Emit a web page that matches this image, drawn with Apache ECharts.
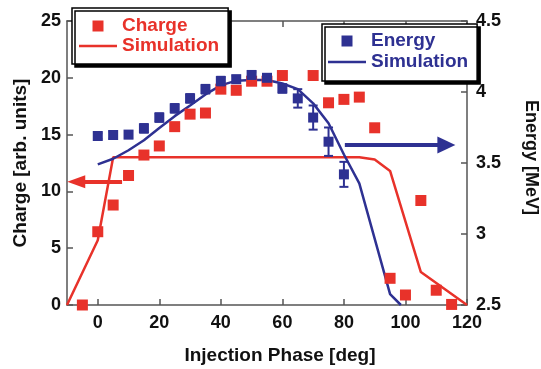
<!DOCTYPE html>
<html>
<head>
<meta charset="utf-8">
<script src="https://cdn.jsdelivr.net/npm/echarts@6/dist/echarts.min.js"></script>
<style>html,body{margin:0;padding:0;background:#fff;}#c{width:541px;height:369px;}</style>
</head>
<body>
<div id="c"></div>
<script>
// x tick labels
var xTicks = [0, 20, 40, 60, 80, 100, 120];
// Charge measurements [phase, charge]
var chargePhase = [-5, 0, 5, 10, 15, 20, 25, 30, 35, 40, 45, 50, 55, 60, 70, 75, 80, 85, 90, 95, 100, 105, 110, 115];
var chargeValue = [0, 6.45, 8.8, 11.4, 13.2, 14.0, 15.7, 16.8, 16.9, 19.0, 18.9, 19.7, 19.7, 20.2, 20.2, 17.8, 18.1, 18.3, 15.6, 2.35, 0.88, 9.2, 1.3, 0.05];
// Charge simulation
var chargeSimPhase = [-10, 0, 5, 85, 90, 95, 105, 120];
var chargeSimValue = [0, 5.7, 13.0, 13.0, 12.8, 11.8, 2.9, 0];
// Energy measurements [phase, energy, error]
var energyPhase = [0, 5, 10, 15, 20, 25, 30, 35, 40, 45, 50, 55, 60, 65, 70, 75, 80];
var energyValue = [3.69, 3.697, 3.70, 3.744, 3.82, 3.885, 3.955, 4.02, 4.077, 4.09, 4.12, 4.10, 4.025, 3.955, 3.82, 3.65, 3.42];
var energyError = [0.02, 0.025, 0.025, 0.03, 0.03, 0.03, 0.03, 0.03, 0.03, 0.025, 0.02, 0.02, 0.03, 0.065, 0.085, 0.1, 0.088];
// Energy simulation
var energySimPhase = [0, 5, 10, 15, 20, 25, 30, 35, 40, 45, 50, 55, 60, 65, 70, 75, 80, 85, 95, 98.5];
var energySimValue = [3.49, 3.53, 3.59, 3.66, 3.747, 3.83, 3.905, 3.983, 4.047, 4.08, 4.085, 4.085, 4.06, 4.02, 3.92, 3.78, 3.56, 3.357, 2.577, 2.5];
// Arrow annotations
var chargeArrow = {from: 7.9, to: -7.0, level: 10.85};
var energyArrow = {from: 80.3, to: 113.3, level: 3.627};

var RED = '#e8322a', BLUE = '#2e3192', AX = '#555';
var FONT = 'Liberation Sans, Arial, Helvetica, sans-serif';
var SQUARE_ICON = 'path://M0,0h10v10h-10z';
var LINE_ICON = 'path://M0,0h40v2.5h-40z';

function zip(a, b) { return a.map(function (v, i) { return [v, b[i]]; }); }

var chart = echarts.init(document.getElementById('c'), null, {renderer: 'canvas'});
var axisLabelStyle = {fontFamily: FONT, fontWeight: 'bold', fontSize: 18, color: '#111'};
var nameStyle = {fontFamily: FONT, fontWeight: 'bold', fontSize: 19, color: '#111'};

function legendOpt(names, color, left, top, padding, gap) {
  return {
    data: [{name: names[0], icon: SQUARE_ICON}, {name: names[1], icon: LINE_ICON}],
    orient: 'vertical', left: left, top: top,
    padding: padding, itemGap: gap, itemWidth: 38, itemHeight: 11,
    symbolKeepAspect: true,
    borderColor: '#000', borderWidth: 1.5, backgroundColor: '#fff',
    shadowColor: '#000', shadowBlur: 0, shadowOffsetX: 3, shadowOffsetY: 3,
    selectedMode: false,
    textStyle: {fontFamily: FONT, fontWeight: 'bold', fontSize: 19, color: color, lineHeight: 20},
    formatter: function (n) { return n.indexOf('Simulation') >= 0 ? 'Simulation' : n; }
  };
}

chart.setOption({
  animation: false,
  backgroundColor: '#fff',
  grid: {left: 67, right: 74, top: 21, bottom: 64, outerBoundsMode: 'none', containLabel: false},
  legend: [
    legendOpt(['Charge', 'Charge Simulation'], RED, 72, 8, [8, 9, 8, 7], 0),
    legendOpt(['Energy', 'Energy Simulation'], BLUE, 322, 24, [7, 9, 9, 6], 1)
  ],
  xAxis: [{
    type: 'value', min: -10, max: 120, position: 'bottom',
    name: 'Injection Phase [deg]', nameLocation: 'middle', nameGap: 41,
    nameTextStyle: Object.assign({padding: [0, 0, 0, 26]}, nameStyle),
    axisLine: {show: true, onZero: false, lineStyle: {color: AX, width: 1.5}},
    axisTick: {show: true, inside: true, length: 6, customValues: xTicks, lineStyle: {color: AX, width: 1.5}},
    axisLabel: Object.assign({customValues: xTicks, margin: 9}, axisLabelStyle),
    splitLine: {show: false}
  }, {
    type: 'value', min: -10, max: 120, position: 'top',
    axisLine: {show: true, onZero: false, lineStyle: {color: AX, width: 1.5}},
    axisTick: {show: true, inside: true, length: 6, customValues: xTicks, lineStyle: {color: AX, width: 1.5}},
    axisLabel: {show: false},
    splitLine: {show: false}
  }],
  yAxis: [{
    type: 'value', min: 0, max: 25, interval: 5, position: 'left',
    name: 'Charge [arb. units]', nameLocation: 'middle', nameGap: 36, nameRotate: 90,
    nameTextStyle: nameStyle,
    axisLine: {show: true, onZero: false, lineStyle: {color: AX, width: 1.5}},
    axisTick: {show: true, inside: true, length: 6, lineStyle: {color: AX, width: 1.5}},
    axisLabel: Object.assign({margin: 6}, axisLabelStyle),
    splitLine: {show: false}
  }, {
    type: 'value', min: 2.5, max: 4.5, interval: 0.5, position: 'right',
    name: 'Energy [MeV]', nameLocation: 'middle', nameGap: 55, nameRotate: -90,
    nameTextStyle: Object.assign({padding: [0, 11, 0, 0]}, nameStyle, {fontSize: 18}),
    axisLine: {show: true, onZero: false, lineStyle: {color: AX, width: 1.5}},
    axisTick: {show: true, inside: true, length: 6, lineStyle: {color: AX, width: 1.5}},
    axisLabel: Object.assign({margin: 9}, axisLabelStyle),
    splitLine: {show: false}
  }],
  series: [{
    name: 'Charge Simulation', type: 'line', xAxisIndex: 0, yAxisIndex: 0,
    data: zip(chargeSimPhase, chargeSimValue), symbol: 'none', smooth: false,
    lineStyle: {color: RED, width: 2.5}, itemStyle: {color: RED}, z: 2
  }, {
    name: 'Energy Simulation', type: 'line', xAxisIndex: 0, yAxisIndex: 1,
    data: zip(energySimPhase, energySimValue), symbol: 'none',
    lineStyle: {color: BLUE, width: 2.5}, itemStyle: {color: BLUE}, z: 3
  }, {
    name: 'Charge', type: 'scatter', xAxisIndex: 0, yAxisIndex: 0,
    data: zip(chargePhase, chargeValue), symbol: 'rect', symbolSize: 11,
    itemStyle: {color: RED, opacity: 1}, clip: false, z: 4,
    markLine: {
      silent: true, symbol: ['none', 'triangle'], symbolSize: [13, 18],
      label: {show: false},
      lineStyle: {color: RED, width: 4, type: 'solid'},
      data: [[{coord: [chargeArrow.from, chargeArrow.level]}, {coord: [chargeArrow.to, chargeArrow.level]}]]
    }
  }, {
    name: 'Energy error', type: 'custom', xAxisIndex: 0, yAxisIndex: 1, z: 5,
    data: energyPhase.map(function (p, i) { return [p, energyValue[i] - energyError[i], energyValue[i] + energyError[i]]; }),
    renderItem: function (params, api) {
      var lo = api.coord([api.value(0), api.value(1)]);
      var hi = api.coord([api.value(0), api.value(2)]);
      var w = 4.5;
      var st = {stroke: BLUE, lineWidth: 2};
      return {type: 'group', children: [
        {type: 'line', shape: {x1: lo[0], y1: lo[1], x2: hi[0], y2: hi[1]}, style: st},
        {type: 'line', shape: {x1: lo[0] - w, y1: lo[1], x2: lo[0] + w, y2: lo[1]}, style: st},
        {type: 'line', shape: {x1: hi[0] - w, y1: hi[1], x2: hi[0] + w, y2: hi[1]}, style: st}
      ]};
    }
  }, {
    name: 'Energy', type: 'scatter', xAxisIndex: 0, yAxisIndex: 1,
    data: zip(energyPhase, energyValue), symbol: 'rect', symbolSize: [10, 10],
    itemStyle: {color: BLUE, opacity: 1}, z: 6,
    markLine: {
      silent: true, symbol: ['none', 'triangle'], symbolSize: [17, 18],
      label: {show: false},
      lineStyle: {color: BLUE, width: 4, type: 'solid'},
      data: [[{coord: [energyArrow.from, energyArrow.level]}, {coord: [energyArrow.to, energyArrow.level]}]]
    }
  }]
});
</script>
</body>
</html>
